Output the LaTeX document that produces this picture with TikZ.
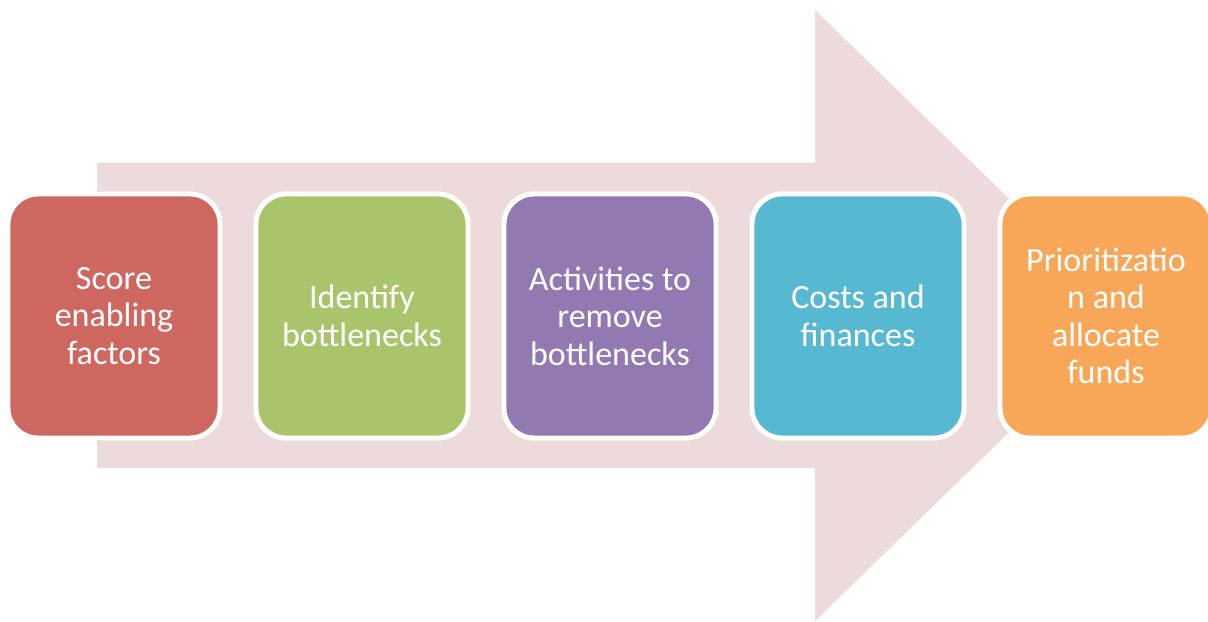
\documentclass[tikz,border=0pt]{standalone}
\usepackage{xcolor}
\usepackage{fontspec}
\setmainfont{Carlito}
\usepackage{tikz}
\usetikzlibrary{positioning}
\definecolor{flowpink}{HTML}{EDDADB}
\definecolor{stepred}{HTML}{CD6760}
\definecolor{stepgreen}{HTML}{AAC46C}
\definecolor{steppurple}{HTML}{9279B1}
\definecolor{stepcyan}{HTML}{57B9D1}
\definecolor{steporange}{HTML}{F8A758}
\tikzstyle{stage} = [rectangle, rounded corners=0.75cm, minimum width=5.3cm, minimum height=6.1cm, outer sep=0pt, draw=white, line width=3.5pt, text=white, align=center, font=\fontsize{24.2}{26.7}\selectfont]
\tikzstyle{flow} = [fill=flowpink]

\begin{document}
\begin{tikzpicture}[node distance=0.9cm]
\useasboundingbox (0,0) rectangle (30.2,15.525);

% Background arrow
\fill[flow] (2.425,11.45) -- (20.375,11.45) -- (20.375,15.275) -- (28.225,7.6375)
  -- (20.375,0) -- (20.375,3.825) -- (2.425,3.825) -- cycle;

% Steps
\node (score) [stage, fill=stepred] at (2.85,7.625) {Score\\enabling\\factors};
\node (bottlenecks) [stage, fill=stepgreen, right=of score] {Identify\\bottlenecks};
\node (activities) [stage, fill=steppurple, right=of bottlenecks] {Activities to\\remove\\bottlenecks};
\node (costs) [stage, fill=stepcyan, right=of activities] {Costs and\\finances};
\node (funds) [stage, fill=steporange, right=of costs] {Prioritizatio\\n and\\allocate\\funds};

\end{tikzpicture}
\end{document}
